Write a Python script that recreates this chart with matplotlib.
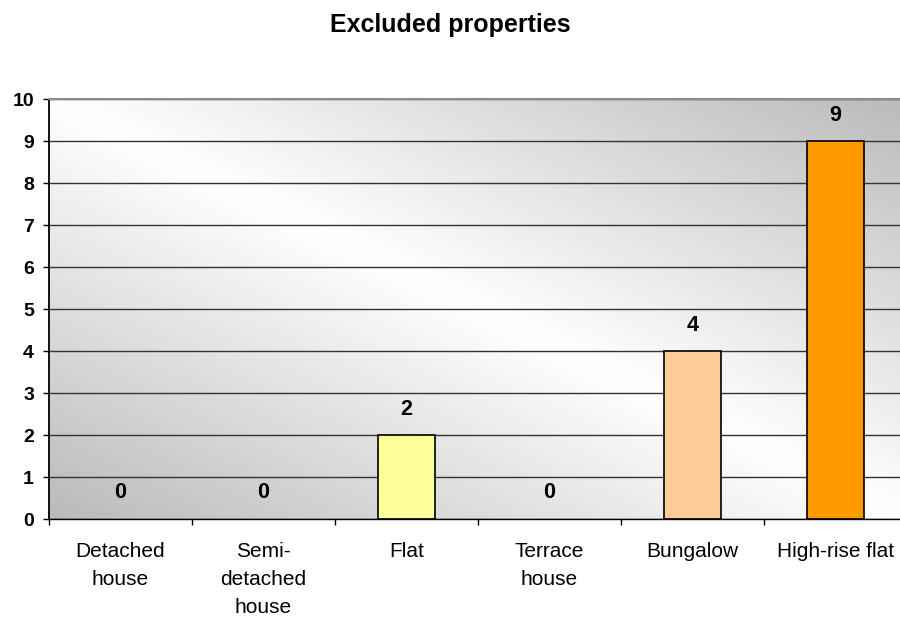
import numpy as np
import matplotlib
matplotlib.use("Agg")
import matplotlib.pyplot as plt

plt.rcParams['font.family'] = ['Liberation Sans', 'DejaVu Sans']

# data
categories = ['Detached\nhouse', 'Semi-\ndetached\nhouse', 'Flat', 'Terrace\nhouse', 'Bungalow', 'High-rise flat']
values = [0, 0, 2, 0, 4, 9]
bar_colors = ['#FFFF99', '#FFFF99', '#FFFF99', '#FFCC99', '#FFCC99', '#FF9900']
y_ticks = list(range(0, 11))

W, H = 900, 619
fig = plt.figure(figsize=(W / 100, H / 100), dpi=100)
# plot area runs slightly past the right edge, as in the original
ax = fig.add_axes([49 / W, 1 - 519 / H, 858 / W, 420 / H])

# diagonal grey-white-grey background
u = np.linspace(0, 1, 400)
v = np.linspace(0, 1, 200)
uu, vv = np.meshgrid(u, v)
t = np.abs(uu + vv - 1)
shade = 1.0 - 0.27 * t
bg = np.dstack([shade, shade, shade])
ax.imshow(bg, extent=[0, 1, 0, 1], transform=ax.transAxes, origin='lower',
          aspect='auto', zorder=0, interpolation='bilinear')

x = np.arange(len(categories))
# zero-height bars show no outline in the original
edges = ['black' if val > 0 else 'none' for val in values]
ax.bar(x, values, width=0.4, color=bar_colors, edgecolor=edges, linewidth=1.2, zorder=2)

for xi, val in zip(x, values):
    ax.annotate(str(val), (xi, val), xytext=(0, 26), textcoords='offset pixels',
                ha='center', va='center', fontsize=15.5, fontweight='bold', zorder=3)

ax.set_xlim(-0.5, len(categories) - 0.5)
ax.set_ylim(0, 10)
ax.set_aspect('auto')

ax.set_yticks(y_ticks)
ax.set_yticklabels([str(v) for v in y_ticks], fontsize=14, fontweight='bold')
ax.tick_params(axis='y', length=6 * 0.72, width=1, pad=6.5, direction='out')

# category boundaries get the tick marks, centres get the labels
ax.set_xticks(np.arange(len(categories) + 1) - 0.5)
ax.set_xticklabels([])
ax.set_xticks(x, minor=True)
ax.set_xticklabels(categories, minor=True, fontsize=15, linespacing=1.6)
ax.tick_params(axis='x', which='major', length=6 * 0.72, width=1, direction='out')
ax.tick_params(axis='x', which='minor', length=0, pad=16.5)

ax.yaxis.grid(True, color='#333333', linewidth=1)
ax.set_axisbelow(True)

ax.spines['right'].set_visible(False)
ax.spines['top'].set_color('#8c8c8c')
ax.spines['top'].set_linewidth(1.5)
ax.spines['left'].set_color('black')
ax.spines['left'].set_linewidth(1.3)
ax.spines['bottom'].set_color('black')
ax.spines['bottom'].set_linewidth(1.0)

fig.text(0.5, 1 - 32 / H, 'Excluded properties', ha='center', va='baseline',
         fontsize=18, fontweight='bold')

fig.savefig('out.png', dpi=100)
